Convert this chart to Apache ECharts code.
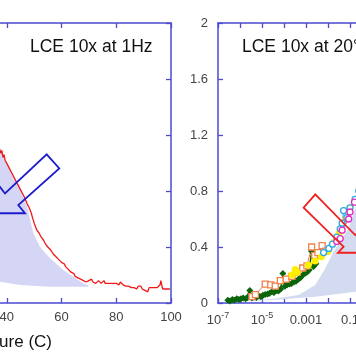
<!DOCTYPE html>
<html><head><meta charset="utf-8">
<script src="https://cdn.jsdelivr.net/npm/echarts@6/dist/echarts.min.js"></script>
<style>html,body{margin:0;padding:0;background:#fff}#c{width:356px;height:364px}</style>
</head><body><div id="c"></div><script>
// ---------- Left panel: LCE 10x at 1Hz (temperature sweep) ----------
const tempC = [37.4,37.8,38.2,38.6,39.0,39.4,39.8,40.2,40.6,41.0,41.4,41.8,42.2,42.6,43.0,43.4,43.8,44.2,44.6,45.0,45.4,45.8,46.2,46.6,47.0,47.4,47.8,48.2,48.6,49.0,49.4,49.8,50.2,50.6,51.0,51.4,51.8,52.2,52.6,53.0,53.4,53.8,54.2,54.6,55.0,55.5,56.0,56.5,57.0,57.5,58.0,58.5,59.0,59.5,60.0,60.5,61.0,61.5,62.0,62.5,63.0,63.5,64.0,64.5,65.0,65.5,66.0,66.5,67.0,67.5,68.0,68.5,69.0,69.5,70.0,70.5,71.0,71.5,72.0,72.5,73.0,73.5,74.0,74.5,75.0,75.5,76.0,76.5,77.0,77.5,78.0,78.5,79.0,79.5,80.0,80.5,81.0,81.5,82.0,82.5,83.0,83.5,84.0,84.5,85.0,85.5,86.0,86.5,87.0,87.5,88.0,88.5,89.0,89.5,90.0,90.5,91.0,91.5,92.0,92.5,93.0,93.5,94.0,94.5,95.0,95.5,96.0,96.3,96.7,97.0,97.5,98.0,98.5,99.0,99.6];
const lossTemp = [1.10,1.07,1.09,1.04,1.06,1.02,1.03,0.99,1.00,0.96,0.97,0.93,0.94,0.90,0.91,0.87,0.88,0.84,0.85,0.81,0.82,0.78,0.79,0.75,0.74,0.71,0.72,0.68,0.66,0.64,0.61,0.60,0.56,0.55,0.52,0.53,0.50,0.49,0.47,0.48,0.45,0.44,0.42,0.43,0.40,0.41,0.38,0.37,0.35,0.36,0.33,0.34,0.31,0.32,0.29,0.28,0.28,0.26,0.25,0.24,0.23,0.22,0.21,0.21,0.19,0.20,0.18,0.18,0.17,0.18,0.16,0.17,0.15,0.16,0.16,0.15,0.17,0.15,0.16,0.14,0.15,0.16,0.15,0.14,0.15,0.16,0.14,0.15,0.14,0.13,0.14,0.15,0.14,0.13,0.14,0.14,0.13,0.15,0.14,0.13,0.14,0.12,0.11,0.12,0.13,0.11,0.12,0.11,0.12,0.10,0.12,0.11,0.12,0.10,0.11,0.09,0.10,0.08,0.11,0.10,0.11,0.10,0.11,0.10,0.11,0.10,0.13,0.16,0.12,0.10,0.10,0.10,0.10,0.10,0.10];
// shaded band (left) : upper edge, lower edge
const shadeLeftUpperT = [36.0,37.5,40.0,42.4,44.2,46.05,47.4,48.1,48.6,49.7,52.15,55.8,60.66,64.3,67.96,69.8];
const shadeLeftUpperV = [1.20,1.10,1.00,0.90,0.843,0.759,0.69,0.63,0.59,0.50,0.40,0.32,0.236,0.188,0.141,0.125];
const shadeLeftLowerT = [69.8,55.8,44.84,37.53,35.7];
const shadeLeftLowerV = [0.116,0.116,0.129,0.152,0.16];
// hollow arrow (left), vertices in data units
const arrowLeftT = [54.59,59.2,44.22,46.67,36.44,36.44,39.36];
const arrowLeftV = [1.062,0.962,0.70,0.641,0.641,0.857,0.782];

// ---------- Right panel: LCE 10x at 20°C (frequency) ----------
const greenF = [2.8e-7,3.5e-7,4.5e-7,5.6e-7,7.1e-7,8.9e-7,1.1e-6,1.4e-6,1.8e-6,2.2e-6,2.8e-6,3.5e-6,4.5e-6,5.6e-6,7.1e-6,8.9e-6,1.1e-5,1.4e-5,1.8e-5,2.2e-5,2.8e-5,3.5e-5,4.5e-5,5.6e-5,7.1e-5,8.9e-5,1.1e-4,1.4e-4,1.8e-4,2.2e-4,2.8e-4,3.5e-4,4.5e-4,5.6e-4,7.1e-4,8.9e-4,1.1e-3,1.4e-3,1.8e-3,2.2e-3,2.8e-3];
const greenV = [0.02,0.015,0.025,0.02,0.03,0.025,0.03,0.035,0.03,0.04,0.09,0.035,0.045,0.04,0.05,0.045,0.055,0.06,0.065,0.07,0.08,0.075,0.09,0.085,0.10,0.21,0.12,0.13,0.135,0.14,0.15,0.155,0.17,0.18,0.20,0.21,0.22,0.235,0.37,0.26,0.28];
const orangeF = [3.5e-6,5.0e-6,1.4e-5,2.5e-5,4.0e-5,6.8e-5,1.26e-4,2.3e-4,4.0e-4,7.1e-4,1.1e-3,1.8e-3,2.5e-3,3.5e-3,5.4e-3,7.9e-3];
const orangeV = [0.045,0.06,0.135,0.13,0.12,0.16,0.17,0.19,0.22,0.25,0.265,0.40,0.34,0.36,0.41,0.37];
const yellowF = [2.3e-4,3.2e-4,4.0e-4,1.26e-3,2.6e-3,5.0e-3,1.0e-2,1.78e-2,3.2e-2,6.3e-2,0.10,0.16];
const yellowV = [0.20,0.24,0.22,0.27,0.30,0.33,0.37,0.43,0.50,0.60,0.68,0.72];
const cyanF = [6.3e-3,1.1e-2,1.6e-2,2.5e-2,3.6e-2,4.4e-2,5.1e-2,7.2e-2,0.10,0.17,0.25];
const cyanV = [0.36,0.39,0.42,0.47,0.53,0.57,0.66,0.61,0.68,0.74,0.80];
const magentaF = [2.5e-2,3.6e-2,4.4e-2,8.7e-2,0.10,0.16];
const magentaV = [0.44,0.46,0.52,0.60,0.65,0.72];
const shadeRightUpperF = [2.0e-6,2.8e-5,4.6e-4,2.6e-3,7.6e-3,1.78e-2,3.63e-2,8.7e-2,0.195,0.5];
const shadeRightUpperV = [0.015,0.029,0.057,0.129,0.248,0.366,0.438,0.536,0.70,0.85];
const shadeRightLowerF = [0.5,0.195,2.6e-3,2.8e-5,2.0e-6];
const shadeRightLowerV = [0.089,0.081,0.045,0.021,0.013];
const arrowRightF = [2.65e-3,0.172,0.323,0.323,2.85e-2,5.12e-2,7.78e-4];
const arrowRightV = [0.776,0.485,0.525,0.359,0.359,0.402,0.681];

// tick labels
const tempTicks = [20,40,60,80,100];
const lossTicks = ['0','0.4','0.8','1.2','1.6','2'];
const decadeLabels = {'-7':'10|-7','-5':'10|-5','-3':'0.001','-1':'0.1','1':'10','3':'1000'};
const titleLeft = 'LCE 10x at 1Hz';
const titleRight = 'LCE 10x at 20°C';
const xNameLeft = 'Temperature (C)';

const zip = (a,b) => a.map((v,i)=>[v,b[i]]);
const AX = '#4a4ad2';
const FONT = 'Liberation Sans, Arial, sans-serif';

function baseAxis(extra){
  return Object.assign({
    axisLine:{show:true,onZero:false,lineStyle:{color:AX,width:1.5}},
    axisTick:{show:true,inside:true,length:5,lineStyle:{color:AX,width:1.3}},
    splitLine:{show:false},
    axisLabel:{show:false}
  }, extra);
}
const lbl = {show:true,color:'#444',fontSize:13,fontFamily:FONT,interval:0,hideOverlap:false};

function polygonSeries(xs, ys, xi, yi, style, z){
  return {
    type:'custom', xAxisIndex:xi, yAxisIndex:yi, z:z, silent:true,
    data:[[xs[0],ys[0]]],
    renderItem:function(params, api){
      const pts = xs.map((x,i)=>api.coord([x,ys[i]]));
      return {type:'polygon', shape:{points:pts}, style:style};
    }
  };
}

const chart = echarts.init(document.getElementById('c'), null, {renderer:'canvas'});
chart.setOption({
  backgroundColor:'#ffffff',
  animation:false,
  grid:[
    {left:-48, top:23, width:219, height:280, outerBoundsMode:'none', containLabel:false},
    {left:218, top:23, width:220, height:280, outerBoundsMode:'none', containLabel:false}
  ],
  xAxis:[
    baseAxis({type:'value',gridIndex:0,position:'bottom',min:20,max:100,interval:20,
      axisLabel:Object.assign({},lbl,{margin:8,formatter:v=>tempTicks.indexOf(v)>=0?String(v):''})}),
    baseAxis({type:'value',gridIndex:0,position:'top',min:20,max:100,interval:20}),
    baseAxis({type:'log',gridIndex:1,position:'bottom',min:1e-7,max:1e3,logBase:10,interval:1,
      axisLabel:Object.assign({},lbl,{margin:8,
        formatter:function(v){
          const e = Math.round(Math.log10(v));
          const s = decadeLabels[String(e)];
          if(!s) return '';
          if(s.indexOf('|')>=0){const p=s.split('|'); return '{b|'+p[0]+'}{s|'+p[1]+'}';}
          return '{b|'+s+'}';
        },
        rich:{b:{fontSize:13,color:'#444',fontFamily:FONT,lineHeight:16,verticalAlign:'bottom'},
              s:{fontSize:9,color:'#444',fontFamily:FONT,lineHeight:16,verticalAlign:'top'}}
      })}),
    baseAxis({type:'log',gridIndex:1,position:'top',min:1e-7,max:1e3,logBase:10,interval:1})
  ],
  yAxis:[
    baseAxis({type:'value',gridIndex:0,position:'left',min:0,max:2,interval:0.4}),
    baseAxis({type:'value',gridIndex:0,position:'right',min:0,max:2,interval:0.4}),
    baseAxis({type:'value',gridIndex:1,position:'left',min:0,max:2,interval:0.4,
      axisLabel:Object.assign({},lbl,{margin:10,formatter:v=>lossTicks[Math.round(v/0.4)]})}),
    baseAxis({type:'value',gridIndex:1,position:'right',min:0,max:2,interval:0.4})
  ],
  graphic:[
    {type:'text',x:30,y:47,style:{text:titleLeft,font:'17.5px '+FONT,fill:'#111',align:'left',verticalAlign:'middle'}},
    {type:'text',x:242,y:47,style:{text:titleRight,font:'17.5px '+FONT,fill:'#111',align:'left',verticalAlign:'middle'}},
    {type:'text',x:52,y:342,style:{text:xNameLeft,font:'17px '+FONT,fill:'#111',align:'right',verticalAlign:'middle'}}
  ],
  series:[
    polygonSeries(shadeLeftUpperT.concat(shadeLeftLowerT), shadeLeftUpperV.concat(shadeLeftLowerV), 0, 0,
      {fill:'#d5d5f6',stroke:null}, 1),
    {type:'line', xAxisIndex:0, yAxisIndex:0, z:3, data:zip(tempC,lossTemp), showSymbol:false, symbol:'none',
      lineStyle:{color:'#f01818',width:1.3}},
    polygonSeries(arrowLeftT, arrowLeftV, 0, 0, {fill:'none',stroke:'#1c1ccc',lineWidth:1.8,lineJoin:'miter'}, 4),

    polygonSeries(shadeRightUpperF.concat(shadeRightLowerF), shadeRightUpperV.concat(shadeRightLowerV), 2, 2,
      {fill:'#d4dbf0',stroke:null}, 1),
    {type:'line', xAxisIndex:2, yAxisIndex:2, z:3, data:zip(greenF,greenV), symbol:'diamond', symbolSize:7,
      itemStyle:{color:'#0b650b'}, lineStyle:{color:'#0b650b',width:1.5}},
    {type:'line', xAxisIndex:2, yAxisIndex:2, z:3, data:zip(orangeF,orangeV), symbol:'rect', symbolSize:6,
      itemStyle:{color:'#ffffff',borderColor:'#f0804a',borderWidth:1.3}, lineStyle:{color:'#f0804a',width:1}},
    {type:'line', xAxisIndex:2, yAxisIndex:2, z:3, data:zip(yellowF,yellowV), symbol:'circle', symbolSize:7,
      itemStyle:{color:'#fff000'}, lineStyle:{color:'#fff000',width:1.5}},
    {type:'line', xAxisIndex:2, yAxisIndex:2, z:3, data:zip(cyanF,cyanV), symbol:'circle', symbolSize:6,
      itemStyle:{color:'#ffffff',borderColor:'#2aa8e0',borderWidth:1.3}, lineStyle:{color:'#2aa8e0',width:1}},
    {type:'line', xAxisIndex:2, yAxisIndex:2, z:3, data:zip(magentaF,magentaV), symbol:'circle', symbolSize:6,
      itemStyle:{color:'#ffffff',borderColor:'#e02cc0',borderWidth:1.3}, lineStyle:{color:'#e02cc0',width:1}},
    polygonSeries(arrowRightF, arrowRightV, 2, 2, {fill:'none',stroke:'#ee2020',lineWidth:1.8,lineJoin:'miter'}, 4)
  ]
});
</script></body></html>
